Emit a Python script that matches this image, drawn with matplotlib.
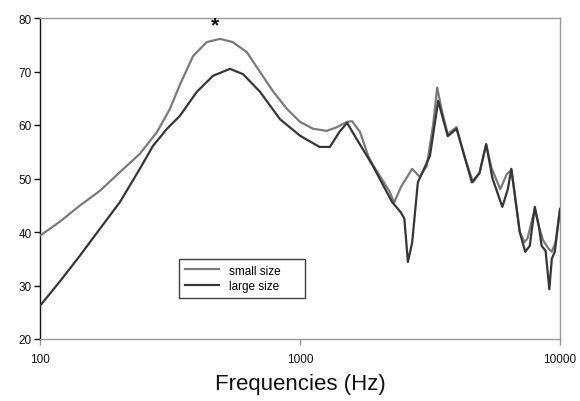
import matplotlib
matplotlib.use("Agg")
import matplotlib.pyplot as plt
from matplotlib.ticker import FixedLocator, NullLocator

plt.rcParams['font.family'] = ['Liberation Sans', 'DejaVu Sans']

small_freq = [100, 119, 142, 170, 203, 242, 282, 316, 345, 388, 438, 493, 551, 625, 702,
              790, 891, 1000, 1122, 1267, 1387, 1518, 1587, 1701, 1830, 1910, 2214, 2300,
              2450, 2700, 2890, 3070, 3250, 3370, 3500, 3700, 4000, 4300, 4630, 4900,
              5200, 5450, 5890, 6240, 6500, 6700, 7000, 7300, 7500, 8000, 8300, 8600,
              9000, 9300, 9600, 10000]
small_vals = [39.3, 41.9, 44.9, 47.7, 51.2, 54.6, 58.7, 63.0, 67.5, 72.9, 75.5, 76.1, 75.5, 73.6, 69.9,
              66.2, 63.0, 60.6, 59.3, 58.9, 59.6, 60.6, 60.7, 58.7, 54.2, 52.5, 47.5, 45.5,
              48.5, 51.8, 50.3, 52.3, 60.0, 67.0, 63.0, 58.3, 59.6, 54.0, 49.3, 51.0,
              56.4, 52.0, 48.0, 50.8, 51.6, 47.0, 40.0, 38.1, 38.8, 44.3, 41.0, 38.5,
              37.0, 36.3, 38.0, 44.3]

large_freq = [100, 119, 142, 170, 203, 242, 272, 308, 345, 401, 463, 538, 604, 702, 837,
              1000, 1189, 1303, 1417, 1518, 1650, 1810, 1910, 2260, 2440, 2520, 2600, 2700,
              2840, 3160, 3400, 3700, 4000, 4300, 4580, 4900, 5200, 5500, 6000, 6300,
              6500, 6700, 7000, 7350, 7650, 8000, 8300, 8500, 8800, 9100, 9300, 9550, 10000]
large_vals = [26.2, 30.7, 35.5, 40.6, 45.6, 51.8, 56.1, 59.3, 61.7, 66.2, 69.2, 70.5, 69.5, 66.2, 61.1,
              58.0, 55.9, 55.9, 58.7, 60.4, 57.4, 54.2, 52.3, 45.6, 43.7, 42.5, 34.4, 38.0,
              49.3, 54.2, 64.5, 57.9, 59.3, 54.0, 49.3, 51.0, 56.4, 50.0, 44.7, 48.0,
              51.8, 47.0, 40.0, 36.3, 37.4, 44.7, 41.0, 37.4, 36.5, 29.3, 35.0, 36.3, 44.3]

series_labels = ["small size", "large size"]
x_ticks = [100, 1000, 10000]
y_ticks = [20, 30, 40, 50, 60, 70, 80]

fig = plt.figure(figsize=(5.8, 4.02), dpi=100)
ax = fig.add_axes([40/580, 62/402, 520/580, 321/402])

ax.plot(small_freq, small_vals, color='#7a7a7a', lw=1.6, label=series_labels[0], zorder=3)
ax.plot(large_freq, large_vals, color='#363636', lw=1.6, label=series_labels[1], zorder=4)

ax.set_xscale('log')
ax.set_xlim(100, 10000)
ax.set_ylim(20, 80)
ax.xaxis.set_major_locator(FixedLocator(x_ticks))
ax.xaxis.set_minor_locator(NullLocator())
ax.set_xticklabels([str(t) for t in x_ticks])
ax.set_yticks(y_ticks)

for s in ['top', 'right', 'bottom']:
    ax.spines[s].set_color('#999999')
    ax.spines[s].set_linewidth(1.0)
ax.spines['left'].set_color('#111111')
ax.spines['left'].set_linewidth(1.0)

ax.tick_params(axis='x', colors='#999999', labelcolor='#111111', length=4, width=1,
               direction='out', labelsize=8.5, pad=6)
ax.tick_params(axis='y', colors='#111111', length=4, width=1, direction='out',
               labelsize=8.5, pad=2)

ax.set_xlabel("Frequencies (Hz)", fontsize=16, color='#111111', labelpad=6)

ax.text(470, 78.8, "*", fontsize=15, fontweight='bold', ha='center', va='center', color='#111111')

leg = ax.legend(loc='lower left', bbox_to_anchor=(139/520, 41/321, 126/520, 47/321),
                mode='expand', frameon=True, fancybox=False, fontsize=8.5,
                handlelength=2.9, handletextpad=0.8, borderpad=0.5, labelspacing=0.3,
                borderaxespad=0)
leg.get_frame().set_edgecolor('#111111')
leg.get_frame().set_linewidth(1.0)

fig.savefig("out.png", dpi=100)
